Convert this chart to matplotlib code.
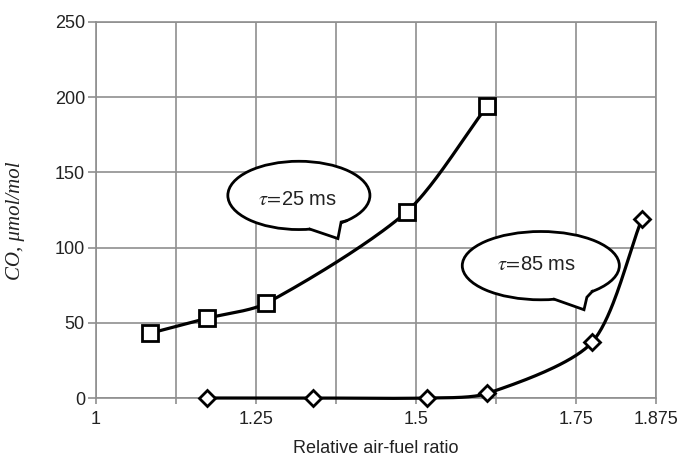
import matplotlib
matplotlib.use("Agg")
import matplotlib.pyplot as plt
import numpy as np
from matplotlib.patches import Ellipse, Polygon
from matplotlib.ticker import FixedLocator, FuncFormatter

plt.rcParams['font.family'] = ['Liberation Sans', 'DejaVu Sans']
plt.rcParams['mathtext.fontset'] = 'stix'

# tau = 25 ms (squares)
afr_25 = [1.084, 1.173, 1.266, 1.486, 1.611]
co_25 = [43, 53, 63, 124, 194]
# tau = 85 ms (diamonds)
afr_85 = [1.173, 1.339, 1.517, 1.611, 1.775, 1.853]
co_85 = [0, 0, 0, 3, 37, 119]

x_ticks = [1.0, 1.125, 1.25, 1.375, 1.5, 1.625, 1.75, 1.875]
x_labels = {1.0: "1", 1.25: "1.25", 1.5: "1.5", 1.75: "1.75", 1.875: "1.875"}
y_ticks = [0, 50, 100, 150, 200, 250]

GRID = '#8f8f8f'
TXT = '#222222'


def smooth(xs, ys, sx=640, sy=1.5, n=40, k=0.8):
    # smoothed line like the spreadsheet one: bezier pieces, tangents weighted by chord length
    p = np.column_stack([np.array(xs) * sx, np.array(ys) * sy])
    out = [p[0]]
    t = np.linspace(0, 1, n)[1:, None]
    for i in range(len(p) - 1):
        p0 = p[i - 1] if i > 0 else p[i]
        p1, p2 = p[i], p[i + 1]
        p3 = p[i + 2] if i + 2 < len(p) else p[i + 1]
        d01 = np.linalg.norm(p1 - p0)
        d12 = np.linalg.norm(p2 - p1)
        d23 = np.linalg.norm(p3 - p2)
        c1 = p1 + (p2 - p0) * d12 / (d01 + d12) / 3 * k
        c2 = p2 - (p3 - p1) * d12 / (d12 + d23) / 3 * k
        seg = (1 - t) ** 3 * p1 + 3 * (1 - t) ** 2 * t * c1 + 3 * (1 - t) * t ** 2 * c2 + t ** 3 * p2
        out.extend(seg)
    out = np.array(out)
    return out[:, 0] / sx, out[:, 1] / sy


def bubble(ax, cx, cy, a, b, t1, t2, tip, kink, text, tx, ty):
    ax.add_patch(Ellipse((cx, cy), 2 * a, 2 * b, facecolor='white', edgecolor='black', lw=2, zorder=5))
    r1, r2 = np.radians(t1), np.radians(t2)
    b1 = (cx + a * np.cos(r1), cy + b * np.sin(r1))
    b2 = (cx + a * np.cos(r2), cy + b * np.sin(r2))
    arc = np.linspace(r2, r1, 12)
    inner = [(cx + 0.8 * a * np.cos(q), cy + 0.8 * b * np.sin(q)) for q in arc]
    ax.add_patch(Polygon([b1, tip, kink, b2] + inner, closed=True, facecolor='white', edgecolor='none', zorder=6))
    ax.plot([b1[0], tip[0], kink[0], b2[0]], [b1[1], tip[1], kink[1], b2[1]],
            color='black', lw=2, zorder=7, solid_joinstyle='miter')
    ax.text(tx, ty, text, ha='center', va='center', fontsize=14.5, color=TXT, zorder=8)


fig = plt.figure(figsize=(6.83, 4.61), dpi=100)
ax = fig.add_axes([96 / 683, 1 - 398 / 461, 560 / 683, 376 / 461])

sx, sy = smooth(afr_25, co_25)
ax.plot(sx, sy, color='black', lw=2.3, zorder=3, clip_on=False)
ax.plot(afr_25, co_25, linestyle='none', marker='s', markersize=11, mfc='white', mec='black', mew=2, zorder=4, clip_on=False)

sx, sy = smooth(afr_85, co_85)
ax.plot(sx, sy, color='black', lw=2.3, zorder=3, clip_on=False)
ax.plot(afr_85, co_85, linestyle='none', marker='D', markersize=8, mfc='white', mec='black', mew=2, zorder=4, clip_on=False)

bubble(ax, 1.317, 134.7, 0.111, 22.7, -81, -48, (1.378, 106), (1.383, 117), r'$\tau\!=\!$25 ms', 1.3156, 132)
bubble(ax, 1.695, 88, 0.1227, 22.7, -80, -49, (1.7625, 58.7), (1.767, 67), r'$\tau\!=\!$85 ms', 1.689, 88.7)

ax.set_xlim(1, 1.875)
ax.set_ylim(0, 250)
ax.xaxis.set_major_locator(FixedLocator(x_ticks))
ax.xaxis.set_major_formatter(FuncFormatter(lambda v, pos: x_labels.get(round(v, 3), "")))
ax.yaxis.set_major_locator(FixedLocator(y_ticks))
ax.grid(True, color=GRID, lw=1.2)
ax.set_axisbelow(True)
for s in ax.spines.values():
    s.set_color(GRID)
    s.set_linewidth(1.2)
ax.tick_params(axis='y', length=6, width=1.2, color=GRID, pad=2, labelsize=13, labelcolor=TXT)
ax.tick_params(axis='x', length=4, width=1.2, color=GRID, pad=5, labelsize=13, labelcolor=TXT)

fig.text(16 / 683, 1 - 221 / 461, 'CO, μmol/mol', rotation=90, ha='center', va='center',
         family='Liberation Serif', style='italic', fontsize=15, color=TXT)
fig.text(376 / 683, 1 - 448 / 461, 'Relative air-fuel ratio', ha='center', va='center',
         fontsize=13, color=TXT)

fig.savefig('out.png', dpi=100)
